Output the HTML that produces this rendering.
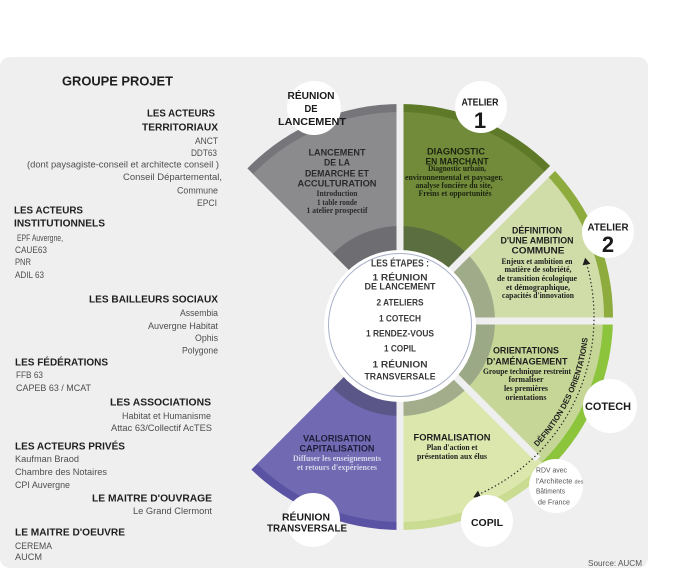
<!DOCTYPE html>
<html><head><meta charset="utf-8">
<style>
html,body{margin:0;padding:0;background:#fff;}
svg{display:block;}
.h{font-family:"Liberation Sans",sans-serif;font-weight:bold;fill:#1e1e1e;}
.r{font-family:"Liberation Sans",sans-serif;fill:#4e4e4e;font-size:9px;}
.s{font-family:"Liberation Serif",serif;font-weight:bold;font-size:8px;}
</style></head><body>
<svg width="685" height="587" viewBox="0 0 685 587" xmlns="http://www.w3.org/2000/svg">
<defs>
<clipPath id="cg"><polygon points="400,321 400,-10 69,-10"/></clipPath>
<clipPath id="cd"><polygon points="400,321 400,-10 731,-10"/></clipPath>
<clipPath id="ca"><polygon points="400,321 731,-10 731,321"/></clipPath>
<clipPath id="co"><polygon points="400,321 731,321 731,652"/></clipPath>
<clipPath id="cf"><polygon points="400,321 731,652 400,652"/></clipPath>
<clipPath id="cp"><polygon points="400,321 400,652 69,652"/></clipPath>
<path id="arcTxt" d="M536,448.3 A189,189 0 0 0 588.5,330.2"/>
</defs>

<rect x="0" y="57" width="648" height="511" rx="10" fill="#efeff0"/>

<!-- sectors -->
<g clip-path="url(#cg)">
<circle cx="400" cy="317" r="213" fill="#76767a"/>
<circle cx="400" cy="317" r="205" fill="#8b8b8e"/>
<circle cx="400" cy="321" r="95" fill="#6d6d72"/>
</g>
<g clip-path="url(#cd)">
<circle cx="400" cy="317" r="213" fill="#5e7a28"/>
<circle cx="400" cy="317" r="205" fill="#718b3a"/>
<circle cx="400" cy="321" r="95" fill="#5b6e40"/>
</g>
<g clip-path="url(#ca)">
<circle cx="400" cy="317" r="213" fill="#8eab3e"/>
<circle cx="400" cy="317" r="204" fill="#d1dda9"/>
<circle cx="400" cy="321" r="95" fill="#a0ab8a"/>
</g>
<g clip-path="url(#co)">
<circle cx="400" cy="317" r="213" fill="#8cc43c"/>
<circle cx="400" cy="317" r="203" fill="#c6d696"/>
<circle cx="400" cy="321" r="95" fill="#9ba986"/>
</g>
<g clip-path="url(#cf)">
<circle cx="400" cy="317" r="213" fill="#cadb92"/>
<circle cx="400" cy="317" r="205" fill="#dce7ae"/>
<circle cx="400" cy="321" r="95" fill="#a3ad8b"/>
</g>
<g clip-path="url(#cp)">
<circle cx="400" cy="317" r="213" fill="#5a52a2"/>
<circle cx="400" cy="317" r="205" fill="#7169b1"/>
<circle cx="400" cy="321" r="95" fill="#5a5688"/>
</g>

<!-- gaps -->
<g stroke="#efeff0" stroke-width="7">
<line x1="400" y1="321" x2="400" y2="90"/>
<line x1="400" y1="321" x2="400" y2="545"/>
<line x1="400" y1="321" x2="562" y2="159"/>
<line x1="400" y1="321" x2="625" y2="321"/>
<line x1="400" y1="321" x2="538" y2="459"/>
</g>

<!-- center circle -->
<circle cx="400" cy="326" r="76" fill="#ffffff"/>
<circle cx="400" cy="325" r="71.5" fill="none" stroke="#a9b1c9" stroke-width="1"/>

<g class="h" font-size="9.5" fill="#3a3a3a" style="fill:#3a3a3a">
<text x="400" y="266.6" text-anchor="middle" textLength="58" lengthAdjust="spacingAndGlyphs" font-size="10">LES ÉTAPES :</text>
<text x="400" y="280.4" text-anchor="middle" textLength="55" lengthAdjust="spacingAndGlyphs">1 RÉUNION</text>
<text x="400" y="289.4" text-anchor="middle" textLength="71" lengthAdjust="spacingAndGlyphs">DE LANCEMENT</text>
<text x="400" y="305.4" text-anchor="middle" textLength="47" lengthAdjust="spacingAndGlyphs">2 ATELIERS</text>
<text x="400" y="321.4" text-anchor="middle" textLength="42" lengthAdjust="spacingAndGlyphs">1 COTECH</text>
<text x="400" y="336.4" text-anchor="middle" textLength="68" lengthAdjust="spacingAndGlyphs">1 RENDEZ-VOUS</text>
<text x="400" y="351.4" text-anchor="middle" textLength="32" lengthAdjust="spacingAndGlyphs">1 COPIL</text>
<text x="400" y="367.4" text-anchor="middle" textLength="55" lengthAdjust="spacingAndGlyphs">1 RÉUNION</text>
<text x="400" y="379.4" text-anchor="middle" textLength="71" lengthAdjust="spacingAndGlyphs">TRANSVERSALE</text>
</g>

<!-- sector texts -->
<g class="h" font-size="9.5" style="fill:#2a2a2a">
<text x="337" y="155.4" text-anchor="middle" textLength="57" lengthAdjust="spacingAndGlyphs">LANCEMENT</text>
<text x="337" y="165.4" text-anchor="middle" textLength="26" lengthAdjust="spacingAndGlyphs">DE LA</text>
<text x="337" y="176.4" text-anchor="middle" textLength="64" lengthAdjust="spacingAndGlyphs">DEMARCHE ET</text>
<text x="337" y="186.4" text-anchor="middle" textLength="79" lengthAdjust="spacingAndGlyphs">ACCULTURATION</text>
</g>
<g class="s" style="fill:#2a2a2a">
<text x="337" y="195.8" text-anchor="middle" textLength="41" lengthAdjust="spacingAndGlyphs">Introduction</text>
<text x="337" y="204.8" text-anchor="middle" textLength="40" lengthAdjust="spacingAndGlyphs">1 table ronde</text>
<text x="337" y="212.8" text-anchor="middle" textLength="61" lengthAdjust="spacingAndGlyphs">1 atelier prospectif</text>
</g>

<g class="h" font-size="9.5" style="fill:#1c2410">
<text x="456" y="154.4" text-anchor="middle" textLength="58" lengthAdjust="spacingAndGlyphs">DIAGNOSTIC</text>
<text x="457" y="164.4" text-anchor="middle" textLength="63" lengthAdjust="spacingAndGlyphs">EN MARCHANT</text>
</g>
<g class="s" style="fill:#1c2410">
<text x="457" y="171" text-anchor="middle" textLength="58" lengthAdjust="spacingAndGlyphs">Diagnostic urbain,</text>
<text x="454" y="180" text-anchor="middle" textLength="98" lengthAdjust="spacingAndGlyphs">environnemental et paysager,</text>
<text x="454" y="188" text-anchor="middle" textLength="77" lengthAdjust="spacingAndGlyphs">analyse foncière du site,</text>
<text x="455" y="196" text-anchor="middle" textLength="73" lengthAdjust="spacingAndGlyphs">Freins et opportunités</text>
</g>

<g class="h" font-size="9.5" style="fill:#1e1e1e">
<text x="537" y="233.4" text-anchor="middle" textLength="50" lengthAdjust="spacingAndGlyphs">DÉFINITION</text>
<text x="537" y="243.4" text-anchor="middle" textLength="73" lengthAdjust="spacingAndGlyphs">D'UNE AMBITION</text>
<text x="538" y="253.4" text-anchor="middle" textLength="53" lengthAdjust="spacingAndGlyphs">COMMUNE</text>
</g>
<g class="s" style="fill:#1e1e1e">
<text x="537" y="263.8" text-anchor="middle" textLength="71" lengthAdjust="spacingAndGlyphs">Enjeux et ambition en</text>
<text x="538" y="271.8" text-anchor="middle" textLength="67" lengthAdjust="spacingAndGlyphs">matière de sobriété,</text>
<text x="537" y="280.8" text-anchor="middle" textLength="80" lengthAdjust="spacingAndGlyphs">de transition écologique</text>
<text x="538" y="289.8" text-anchor="middle" textLength="64" lengthAdjust="spacingAndGlyphs">et démographique,</text>
<text x="538" y="297.8" text-anchor="middle" textLength="72" lengthAdjust="spacingAndGlyphs">capacités d'innovation</text>
</g>

<g class="h" font-size="9.5" style="fill:#1e1e1e">
<text x="526" y="353.4" text-anchor="middle" textLength="66" lengthAdjust="spacingAndGlyphs">ORIENTATIONS</text>
<text x="527" y="364.4" text-anchor="middle" textLength="81" lengthAdjust="spacingAndGlyphs">D'AMÉNAGEMENT</text>
</g>
<g class="s" style="fill:#1e1e1e">
<text x="527" y="373.8" text-anchor="middle" textLength="88" lengthAdjust="spacingAndGlyphs">Groupe technique restreint</text>
<text x="526" y="381.8" text-anchor="middle" textLength="35" lengthAdjust="spacingAndGlyphs">formaliser</text>
<text x="526" y="390.8" text-anchor="middle" textLength="44" lengthAdjust="spacingAndGlyphs">les premières</text>
<text x="526" y="399.8" text-anchor="middle" textLength="41" lengthAdjust="spacingAndGlyphs">orientations</text>
</g>

<g class="h" font-size="9.5" style="fill:#1e1e1e">
<text x="452" y="440.4" text-anchor="middle" textLength="77" lengthAdjust="spacingAndGlyphs">FORMALISATION</text>
</g>
<g class="s" style="fill:#1e1e1e">
<text x="452" y="449.8" text-anchor="middle" textLength="51" lengthAdjust="spacingAndGlyphs">Plan d'action et</text>
<text x="452" y="458.8" text-anchor="middle" textLength="70" lengthAdjust="spacingAndGlyphs">présentation aux élus</text>
</g>

<g class="h" font-size="9.5" style="fill:#1f1f3c">
<text x="337" y="441.4" text-anchor="middle" textLength="68" lengthAdjust="spacingAndGlyphs">VALORISATION</text>
<text x="337" y="451.4" text-anchor="middle" textLength="75" lengthAdjust="spacingAndGlyphs">CAPITALISATION</text>
</g>
<g class="s" style="fill:#d6d6ea">
<text x="337" y="460.8" text-anchor="middle" textLength="88" lengthAdjust="spacingAndGlyphs">Diffuser les enseignements</text>
<text x="337" y="469.8" text-anchor="middle" textLength="80" lengthAdjust="spacingAndGlyphs">et retours d'expériences</text>
</g>

<!-- dotted arc -->
<path d="M586.5,263.5 A194,194 0 0 1 478.9,494.2" fill="none" stroke="#2a2a2a" stroke-width="1.2" stroke-dasharray="1.4 2.4"/>
<polygon points="585.1,257.7 590.4,263.9 582.6,265.3" fill="#1e1e1e"/>
<polygon points="473.3,497.2 478.0,490.5 481.0,497.5" fill="#1e1e1e"/>
<text class="h" font-size="8" style="fill:#1e1e1e"><textPath href="#arcTxt" startOffset="2" textLength="122" lengthAdjust="spacingAndGlyphs">DÉFINITION DES ORIENTATIONS</textPath></text>

<!-- white label circles -->
<g fill="#ffffff">
<circle cx="314" cy="108" r="27"/>
<circle cx="481" cy="107" r="26"/>
<circle cx="608" cy="232" r="26"/>
<circle cx="610" cy="406" r="27"/>
<circle cx="556" cy="486" r="27"/>
<circle cx="487" cy="521" r="26"/>
<circle cx="313" cy="520" r="27"/>
</g>

<g class="h" style="fill:#1a1a1a">
<text x="311" y="98.8" font-size="10.5" text-anchor="middle" textLength="47" lengthAdjust="spacingAndGlyphs">RÉUNION</text>
<text x="311" y="111.8" font-size="10.5" text-anchor="middle" textLength="13" lengthAdjust="spacingAndGlyphs">DE</text>
<text x="312" y="124.8" font-size="10.5" text-anchor="middle" textLength="68" lengthAdjust="spacingAndGlyphs">LANCEMENT</text>

<text x="480" y="105.6" font-size="10" text-anchor="middle" textLength="37" lengthAdjust="spacingAndGlyphs">ATELIER</text>
<text x="480" y="128" font-size="22" text-anchor="middle">1</text>

<text x="608" y="230.6" font-size="10" text-anchor="middle" textLength="41" lengthAdjust="spacingAndGlyphs">ATELIER</text>
<text x="608" y="252" font-size="22" text-anchor="middle">2</text>

<text x="608" y="410" font-size="11" text-anchor="middle" textLength="46" lengthAdjust="spacingAndGlyphs">COTECH</text>
<text x="487" y="525.8" font-size="10.5" text-anchor="middle" textLength="32" lengthAdjust="spacingAndGlyphs">COPIL</text>

<text x="306" y="520.6" font-size="10" text-anchor="middle" textLength="48" lengthAdjust="spacingAndGlyphs">RÉUNION</text>
<text x="307" y="531.6" font-size="10" text-anchor="middle" textLength="80" lengthAdjust="spacingAndGlyphs">TRANSVERSALE</text>
</g>

<g font-family="Liberation Sans, sans-serif" font-size="7.5" fill="#555">
<text x="536" y="472.6" textLength="31" lengthAdjust="spacingAndGlyphs">RDV avec</text>
<text x="536" y="483.6">l'Architecte <tspan font-size="5.5">des</tspan></text>
<text x="536" y="493.6" textLength="29" lengthAdjust="spacingAndGlyphs">Bâtiments</text>
<text x="538" y="504.6" textLength="32" lengthAdjust="spacingAndGlyphs">de France</text>
</g>

<!-- left column -->
<g class="h" font-size="10">
<text x="62" y="85.6" font-size="12.8" textLength="111" lengthAdjust="spacingAndGlyphs">GROUPE PROJET</text>
<text x="147" y="116.6" textLength="68" lengthAdjust="spacingAndGlyphs">LES ACTEURS</text>
<text x="142" y="130.6" textLength="76" lengthAdjust="spacingAndGlyphs">TERRITORIAUX</text>
<text x="14" y="213.6" textLength="69" lengthAdjust="spacingAndGlyphs">LES ACTEURS</text>
<text x="14" y="226.6" textLength="91" lengthAdjust="spacingAndGlyphs">INSTITUTIONNELS</text>
<text x="89" y="302.6" textLength="129" lengthAdjust="spacingAndGlyphs">LES BAILLEURS SOCIAUX</text>
<text x="15" y="365.6" textLength="93" lengthAdjust="spacingAndGlyphs">LES FÉDÉRATIONS</text>
<text x="110" y="405.6" textLength="101" lengthAdjust="spacingAndGlyphs">LES ASSOCIATIONS</text>
<text x="15" y="449.6" textLength="110" lengthAdjust="spacingAndGlyphs">LES ACTEURS  PRIVÉS</text>
<text x="92" y="501.6" textLength="120" lengthAdjust="spacingAndGlyphs">LE MAITRE D'OUVRAGE</text>
<text x="15" y="535.6" textLength="110" lengthAdjust="spacingAndGlyphs">LE MAITRE D'OEUVRE</text>
</g>
<g class="r">
<text x="195" y="144.2" textLength="23" lengthAdjust="spacingAndGlyphs">ANCT</text>
<text x="191" y="156" textLength="26" lengthAdjust="spacingAndGlyphs">DDT63</text>
<text x="27" y="167.5" textLength="192" lengthAdjust="spacingAndGlyphs">(dont paysagiste-conseil et architecte conseil )</text>
<text x="123" y="180" textLength="99" lengthAdjust="spacingAndGlyphs">Conseil Départemental,</text>
<text x="177" y="193.5" textLength="41" lengthAdjust="spacingAndGlyphs">Commune</text>
<text x="197" y="206" textLength="20" lengthAdjust="spacingAndGlyphs">EPCI</text>
<text x="17" y="241.2" textLength="46" lengthAdjust="spacingAndGlyphs">EPF Auvergne,</text>
<text x="15" y="253.2" textLength="32" lengthAdjust="spacingAndGlyphs">CAUE63</text>
<text x="15" y="265.2" textLength="16" lengthAdjust="spacingAndGlyphs">PNR</text>
<text x="15" y="278.2" textLength="29" lengthAdjust="spacingAndGlyphs">ADIL 63</text>
<text x="180" y="316.2" textLength="38" lengthAdjust="spacingAndGlyphs">Assembia</text>
<text x="148" y="329.2" textLength="70" lengthAdjust="spacingAndGlyphs">Auvergne Habitat</text>
<text x="195" y="341.2" textLength="23" lengthAdjust="spacingAndGlyphs">Ophis</text>
<text x="182" y="353.6" textLength="36" lengthAdjust="spacingAndGlyphs">Polygone</text>
<text x="16" y="378.2" textLength="27" lengthAdjust="spacingAndGlyphs">FFB 63</text>
<text x="16" y="391.2" textLength="75" lengthAdjust="spacingAndGlyphs">CAPEB 63 / MCAT</text>
<text x="122" y="419.2" textLength="89" lengthAdjust="spacingAndGlyphs">Habitat et Humanisme</text>
<text x="111" y="431.2" textLength="101" lengthAdjust="spacingAndGlyphs">Attac 63/Collectif AcTES</text>
<text x="15" y="462.2" textLength="64" lengthAdjust="spacingAndGlyphs">Kaufman Braod</text>
<text x="15" y="475.2" textLength="92" lengthAdjust="spacingAndGlyphs">Chambre des Notaires</text>
<text x="15" y="488.2" textLength="55" lengthAdjust="spacingAndGlyphs">CPI Auvergne</text>
<text x="133" y="514.2" textLength="79" lengthAdjust="spacingAndGlyphs">Le Grand Clermont</text>
<text x="15" y="549.2" textLength="37" lengthAdjust="spacingAndGlyphs">CEREMA</text>
<text x="15" y="560.2" textLength="27" lengthAdjust="spacingAndGlyphs">AUCM</text>
</g>

<text x="588" y="566" font-family="Liberation Sans, sans-serif" font-size="8.5" fill="#555" textLength="54" lengthAdjust="spacingAndGlyphs">Source: AUCM</text>
</svg>
</body></html>
